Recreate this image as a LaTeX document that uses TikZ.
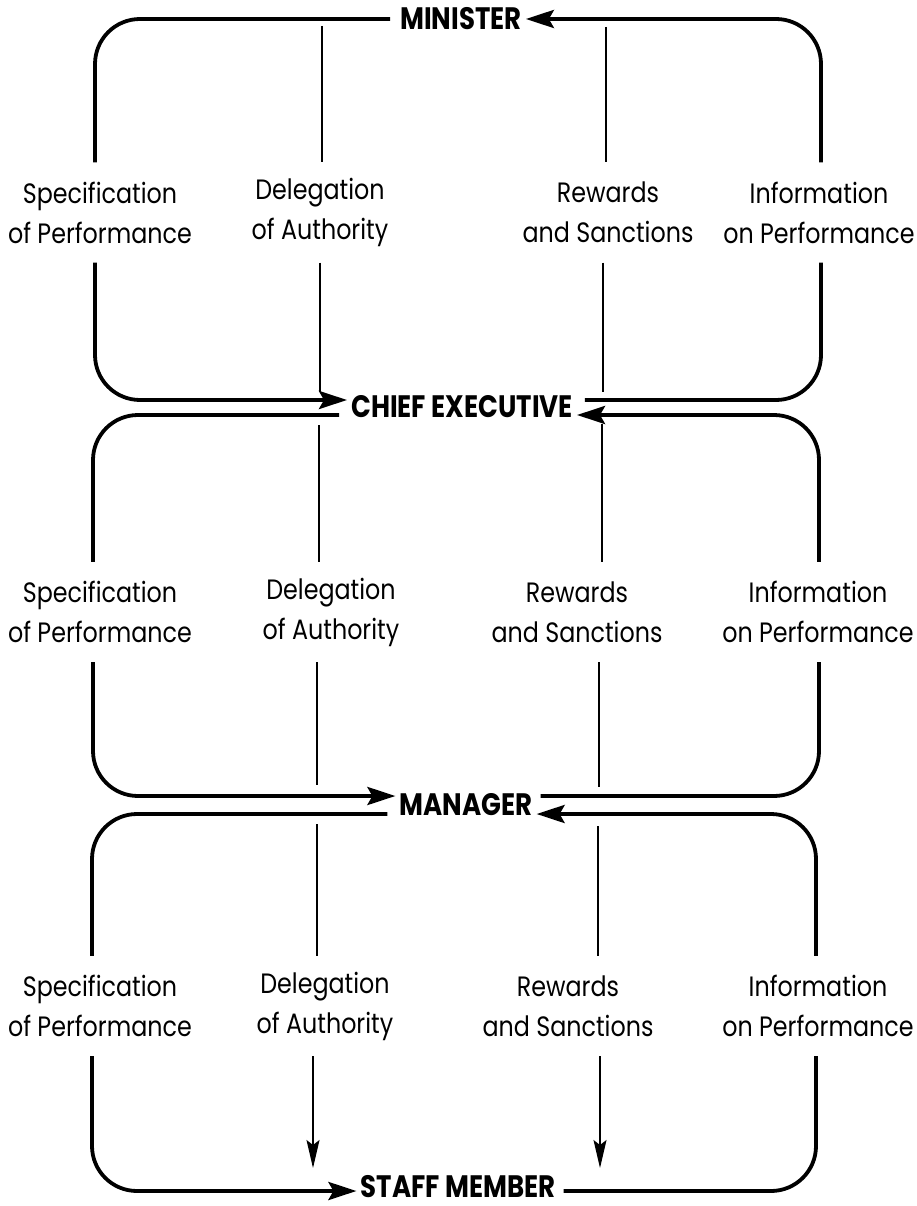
\documentclass[tikz,border=0pt]{standalone}
\usepackage{fontspec}
\setmainfont{Poppins}
\newfontfamily\labfont{Poppins}[FakeStretch=0.85]
\newfontfamily\titfont{Poppins}[FakeStretch=0.84]
\usetikzlibrary{arrows.meta}
\begin{document}
\begin{tikzpicture}[x=1pt,y=-1pt,
  thk/.style={line width=3.8pt, rounded corners=45pt},
  thn/.style={line width=1.2pt},
  bigarrow/.style={-{Stealth[length=28pt,width=18pt,inset=5pt]}},
  smallarrow/.style={-{Stealth[length=28pt,width=13pt,inset=5pt]}},
  title/.style={font=\titfont\bfseries\fontsize{31}{34}\selectfont, inner xsep=4pt, inner ysep=0pt},
  lab/.style={font=\labfont\fontsize{28}{40}\selectfont, align=center, inner sep=0pt, minimum height=100pt},
]
\useasboundingbox (0,0) rectangle (916,1206);

% titles
\node[title] (min)   at (461,19)   {MINISTER};
\node[title] (ce)    at (462,407)  {CHIEF EXECUTIVE};
\node[title] (mgr)   at (466,805)  {MANAGER};
\node[title] (staff) at (458,1187) {STAFF MEMBER};

% labels
\node[lab] (spec1)  at (100,212.5) {Specification\\of Performance};
\node[lab] (del1)   at (320,212.5) {Delegation\\of Authority};
\node[lab] (rew1)   at (608,212.5) {Rewards\\and Sanctions};
\node[lab] (info1)  at (819,212.5) {Information\\on Performance};

\node[lab] (spec2)  at (100,612) {Specification\\of Performance};
\node[lab] (del2)   at (331,612) {Delegation\\of Authority};
\node[lab] (rew2)   at (577,612) {Rewards\\and Sanctions};
\node[lab] (info2)  at (818,612) {Information\\on Performance};

\node[lab] (spec3)  at (100,1006) {Specification\\of Performance};
\node[lab] (del3)   at (325,1006) {Delegation\\of Authority};
\node[lab] (rew3)   at (568,1006) {Rewards\\and Sanctions};
\node[lab] (info3)  at (818,1006) {Information\\on Performance};

% left loops (specification of performance)
\draw[thk, shorten <=6pt] (min.west) -| ([xshift=-5pt]spec1.north);
\draw[thk, bigarrow] ([xshift=-5pt]spec1.south) |- ([yshift=7pt]ce.west);
\draw[thk, shorten <=8pt] ([yshift=-8pt]ce.west) -| ([xshift=-7pt]spec2.north);
\draw[thk, bigarrow] ([xshift=-7pt]spec2.south) |- ([yshift=9pt]mgr.west);
\draw[thk, shorten <=8pt] ([yshift=-9pt]mgr.west) -| ([xshift=-8pt]spec3.north);
\draw[thk, bigarrow] ([xshift=-8pt]spec3.south) |- ([yshift=-4pt]staff.west);

% right loops (information on performance)
\draw[thk, shorten <=8pt] ([yshift=7pt]ce.east) -| ([xshift=2pt]info1.south);
\draw[thk, bigarrow] ([xshift=2pt]info1.north) |- (min.east);
\draw[thk, shorten <=4pt] ([yshift=9pt]mgr.east) -| ([xshift=1pt]info2.south);
\draw[thk, bigarrow] ([xshift=1pt]info2.north) |- ([yshift=-8pt]ce.east);
\draw[thk, shorten <=4pt] ([yshift=-4pt]staff.east) -| ([xshift=-2pt]info3.south);
\draw[thk, bigarrow] ([xshift=-2pt]info3.north) |- ([yshift=-9pt]mgr.east);

% thin lines: delegation of authority
\coordinate (d0a) at (322,26);   \coordinate (d1b) at (320,392);
\coordinate (d2a) at (319,425);  \coordinate (d3b) at (317,785);
\coordinate (d4a) at (317,824);  \coordinate (d5b) at (313,1168);
\draw[thn] (d0a) -- (del1.north -| d0a);
\draw[thn] (del1.south -| d1b) -- (d1b);
\draw[thn] (d2a) -- (del2.north -| d2a);
\draw[thn] (del2.south -| d3b) -- (d3b);
\draw[thn] (d4a) -- (del3.north -| d4a);
\draw[thn, smallarrow] (del3.south -| d5b) -- (d5b);

% thin lines: rewards and sanctions
\coordinate (r0a) at (606,27);   \coordinate (r1b) at (603,392);
\coordinate (r2a) at (602,424);  \coordinate (r3b) at (599,787);
\coordinate (r4a) at (598,826);  \coordinate (r5b) at (600,1168);
\draw[thn] (r0a) -- (rew1.north -| r0a);
\draw[thn] (rew1.south -| r1b) -- (r1b);
\draw[thn] (r2a) -- (rew2.north -| r2a);
\draw[thn] (rew2.south -| r3b) -- (r3b);
\draw[thn] (r4a) -- (rew3.north -| r4a);
\draw[thn, smallarrow] (rew3.south -| r5b) -- (r5b);
\end{tikzpicture}
\end{document}
